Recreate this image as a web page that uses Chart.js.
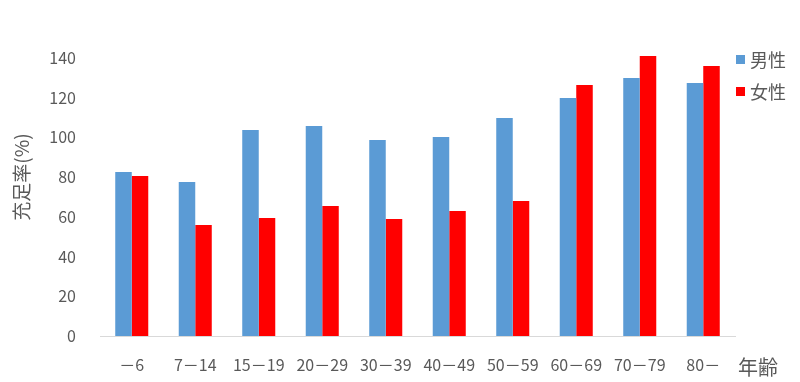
<!DOCTYPE html>
<html>
<head>
<meta charset="utf-8">
<script src="https://cdn.jsdelivr.net/npm/chart.js@4.4.0/dist/chart.umd.min.js"></script>
<style>
html,body{margin:0;padding:0;background:#fff;}
#wrap{width:800px;height:382px;}
</style>
</head>
<body>
<div id="wrap"><canvas id="c" width="800" height="382"></canvas></div>
<script>
const categories = ["－6","7－14","15－19","20－29","30－39","40－49","50－59","60－69","70－79","80－"];
const maleValues = [82.6,77.5,103.7,105.7,98.7,100.2,109.8,119.8,129.9,127.4];
const femaleValues = [80.6,55.9,59.4,65.5,58.9,62.9,68.0,126.4,141.0,136.0];
const seriesLabels = ["男性","女性"];
const yTicks = [0,20,40,60,80,100,120,140];
const yTitle = "充足率(%)";
const xTitle = "年齢";

const FONT = "'Noto Sans CJK JP','Noto Sans',sans-serif";
const GRAY = "#595959";

const extras = {
  id:'extras',
  afterDraw(chart){
    const ctx = chart.ctx;
    ctx.save();
    ctx.fillStyle = GRAY;
    ctx.font = "19px " + FONT;
    ctx.textAlign = "center";
    ctx.textBaseline = "middle";
    ctx.translate(22,177);
    ctx.rotate(-Math.PI/2);
    ctx.fillText(yTitle,0,0);
    ctx.restore();
    ctx.save();
    ctx.fillStyle = GRAY;
    ctx.font = "20px " + FONT;
    ctx.textAlign = "left";
    ctx.textBaseline = "middle";
    ctx.fillText(xTitle,738,367);
    chart.data.datasets.forEach((ds,i)=>{
      const y = 59.5 + i*32;
      ctx.fillStyle = ds.backgroundColor;
      ctx.fillRect(736,y-4.5,9,9);
      ctx.fillStyle = GRAY;
      ctx.font = "18px " + FONT;
      ctx.fillText(ds.label,750,y+1);
    });
    ctx.restore();
  }
};

new Chart(document.getElementById('c'),{
  type:'bar',
  data:{
    labels:categories,
    datasets:[
      {label:seriesLabels[0],data:maleValues,backgroundColor:'#5B9BD5',categoryPercentage:0.52,barPercentage:1},
      {label:seriesLabels[1],data:femaleValues,backgroundColor:'#FF0000',categoryPercentage:0.52,barPercentage:1}
    ]
  },
  options:{
    responsive:false,
    animation:false,
    layout:{padding:{top:48,right:65,left:0,bottom:0}},
    plugins:{legend:{display:false},tooltip:{enabled:false}},
    scales:{
      x:{
        grid:{display:false},
        border:{display:true,color:'#D9D9D9',width:1},
        ticks:{color:GRAY,font:{family:FONT,size:16},padding:11,maxRotation:0,autoSkip:false},
        afterFit(s){s.height=46;}
      },
      y:{
        min:0,max:145,
        grid:{display:false},
        border:{display:false},
        afterBuildTicks(s){s.ticks = yTicks.map(v=>({value:v}));},
        ticks:{color:GRAY,font:{family:FONT,size:16},padding:16},
        afterFit(s){s.width=100;}
      }
    }
  },
  plugins:[extras]
});
</script>
</body>
</html>
